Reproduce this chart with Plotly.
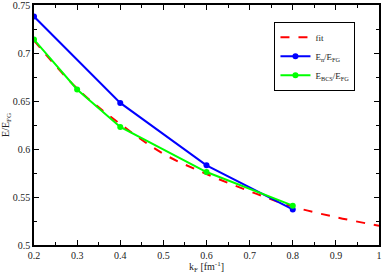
import plotly.graph_objects as go

# Data
fit_k = [0.2, 0.3, 0.4, 0.5, 0.6, 0.7, 0.8, 0.9, 1.0]
fit_e = [0.713, 0.663, 0.626, 0.595, 0.574, 0.556, 0.540, 0.529, 0.520]
en_k = [0.2, 0.4, 0.6, 0.8]
en_e = [0.738, 0.648, 0.583, 0.537]
bcs_k = [0.2, 0.3, 0.4, 0.6, 0.8]
bcs_e = [0.714, 0.662, 0.623, 0.576, 0.541]

x_ticks = [0.2, 0.3, 0.4, 0.5, 0.6, 0.7, 0.8, 0.9, 1.0]
x_labels = ["0.2", "0.3", "0.4", "0.5", "0.6", "0.7", "0.8", "0.9", "1"]
y_ticks = [0.5, 0.55, 0.6, 0.65, 0.7, 0.75]
y_labels = ["0.5", "0.55", "0.6", "0.65", "0.7", "0.75"]

FONT = "Liberation Serif"
TXT = "#222222"

fig = go.Figure()
fig.add_trace(go.Scatter(x=fit_k, y=fit_e, mode="lines", name="fit",
                         line=dict(color="#ff0000", width=2, dash="dash", shape="spline")))
fig.add_trace(go.Scatter(x=en_k, y=en_e, mode="lines+markers",
                         name="E<sub>n</sub>/E<sub>FG</sub>",
                         line=dict(color="#0000ff", width=2),
                         marker=dict(color="#0000ff", size=6, symbol="circle")))
fig.add_trace(go.Scatter(x=bcs_k, y=bcs_e, mode="lines+markers",
                         name="E<sub>BCS</sub>/E<sub>FG</sub>",
                         line=dict(color="#00ff00", width=2),
                         marker=dict(color="#00ff00", size=6, symbol="circle")))

axis_common = dict(showline=True, linecolor="black", linewidth=1.5, mirror="ticks",
                   ticks="inside", ticklen=5, tickwidth=1, tickcolor="black",
                   showgrid=False, zeroline=False, ticklabeloverflow="allow",
                   tickfont=dict(family=FONT, size=10, color=TXT))

fig.update_xaxes(range=[0.2, 1.0], tickvals=x_ticks, ticktext=x_labels,
                 minor=dict(ticks="inside", ticklen=3, dtick=0.05, tickcolor="black", showgrid=False),
                 title=dict(text="k<sub>F</sub> [fm<sup>-1</sup>]", font=dict(family=FONT, size=10, color=TXT),
                            standoff=4),
                 **axis_common)
fig.update_yaxes(range=[0.5, 0.75], tickvals=y_ticks, ticktext=y_labels,
                 minor=dict(ticks="inside", ticklen=3, dtick=0.025, tickcolor="black", showgrid=False),
                 title=dict(text="E/E<sub>FG</sub>", font=dict(family=FONT, size=10, color=TXT),
                            standoff=3),
                 **axis_common)

fig.update_layout(width=382, height=274,
                  margin=dict(l=34, r=3, t=5, b=29, autoexpand=False),
                  paper_bgcolor="white", plot_bgcolor="white",
                  showlegend=True,
                  legend=dict(x=0.697, y=0.93, xanchor="left", yanchor="top",
                              bgcolor="white", bordercolor="black", borderwidth=1,
                              font=dict(family=FONT, size=9, color=TXT),
                              itemwidth=30, tracegroupgap=0))

fig.write_html("out.html", config={"displayModeBar": False},
               post_script="document.body.style.margin='0';")
